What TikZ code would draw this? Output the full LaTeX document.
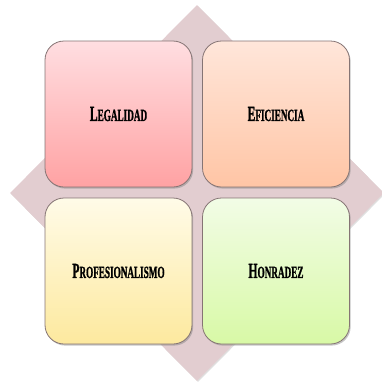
\documentclass[tikz,border=0pt]{standalone}
\usepackage{fontspec}
\setmainfont{Liberation Serif}
\newfontfamily\heavyfont[FakeBold=1.6]{Liberation Serif Bold}
\usetikzlibrary{shapes.geometric,shadows}
\definecolor{diamondc}{HTML}{E2CDD0}
\definecolor{edgec}{HTML}{857474}
\definecolor{lgtop}{HTML}{FFDEE1}
\definecolor{lgbot}{HTML}{FFA2A3}
\definecolor{eftop}{HTML}{FFE6DA}
\definecolor{efbot}{HTML}{FFC5A5}
\definecolor{prtop}{HTML}{FFFBE8}
\definecolor{prbot}{HTML}{FDE99E}
\definecolor{hotop}{HTML}{F2FCE6}
\definecolor{hobot}{HTML}{D8F9A6}
\newcommand{\capsword}[2]{\scalebox{0.54}[1]{\heavyfont\fontsize{21.5}{21.5}\selectfont #1\fontsize{17}{17}\selectfont #2}}
\tikzset{
  quadbox/.style={draw=edgec, line width=0.8pt, rounded corners=19pt,
    minimum width=147pt, minimum height=146pt, inner sep=0pt,
    drop shadow={shadow xshift=1.2pt, shadow yshift=-1.6pt, opacity=0.45}},
  backdiamond/.style={diamond, fill=diamondc, draw=none, inner sep=0pt,
    minimum width=374pt, minimum height=376pt,
    drop shadow={shadow xshift=1pt, shadow yshift=-1pt, opacity=0.25}}
}
\begin{document}
\begin{tikzpicture}[x=1pt,y=-1pt]
\useasboundingbox (0,0) rectangle (382,386);
\node[backdiamond] (dia) at (197,193) {};
\node[quadbox, top color=lgtop, bottom color=lgbot] (leg) at (118.5,114) {\capsword{L}{EGALIDAD}};
\node[quadbox, top color=eftop, bottom color=efbot] (efi) at (276,114) {\capsword{E}{FICIENCIA}};
\node[quadbox, top color=prtop, bottom color=prbot] (pro) at (118.5,271) {\capsword{P}{ROFESIONALISMO}};
\node[quadbox, top color=hotop, bottom color=hobot] (hon) at (276,271) {\capsword{H}{ONRADEZ}};
\end{tikzpicture}
\end{document}
